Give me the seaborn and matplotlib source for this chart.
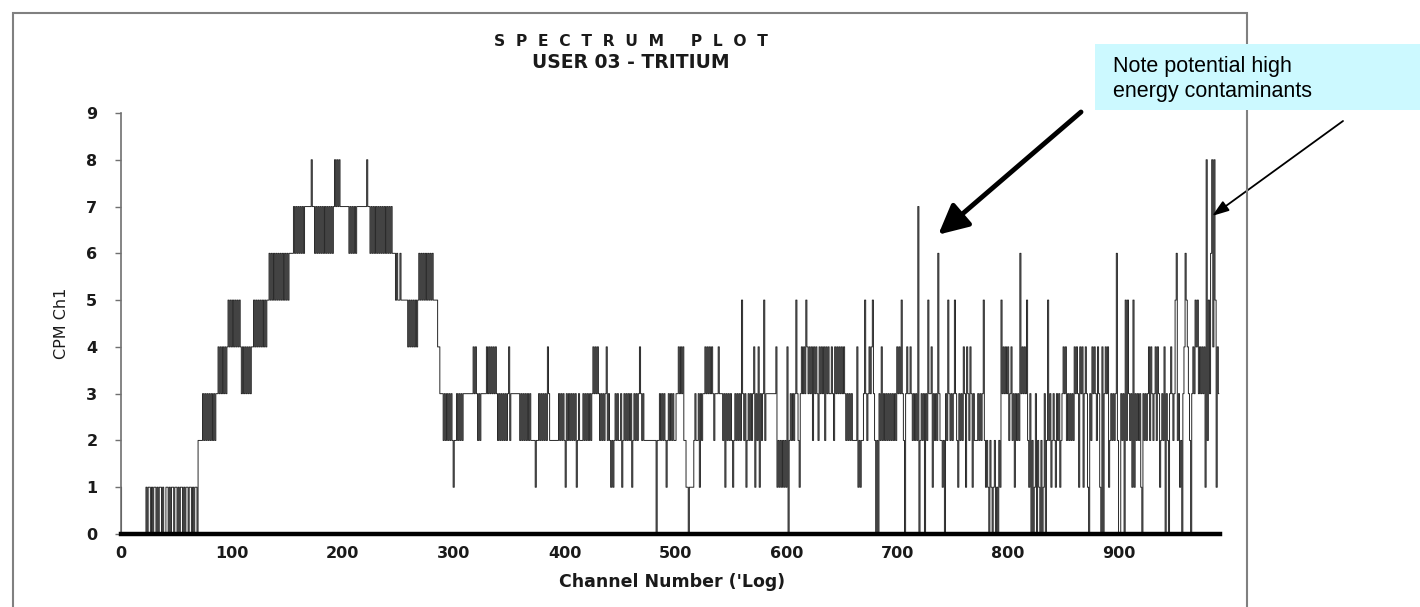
"""Spectrum plot (USER 03 - TRITIUM) with annotation about high energy contaminants."""

import matplotlib

matplotlib.use("Agg")

import matplotlib.pyplot as plt
import numpy as np
import pandas as pd
import seaborn as sns
from matplotlib.patches import Rectangle


# CPM per channel, one digit per channel, 100 channels per block
CPM_000_099 = (
    "1000000000" "0000000000" "0001011010" "1101011010" "0110101101"
    "1010110101" "1011010110" "2222323232" "3232323343" "4343434545"
)
CPM_100_199 = (
    "4545454543" "4343434344" "5454545454" "5455656565" "6565656565"
    "6566667676" "7676767777" "7787767676" "7676767676" "7678787877"
)
CPM_200_299 = (
    "7777776767" "6767777777" "7787767676" "7676767676" "7676766656"
    "5565555554" "5454545456" "5656565656" "5655554433" "3232323232"
)
CPM_300_399 = (
    "1223232323" "3333333343" "4323233333" "4343434343" "2323232323"
    "4233333333" "2323232323" "2222122323" "2323243222" "2222232323"
)
CPM_400_499 = (
    "2132323232" "3123222323" "2323234343" "4323232342" "3212123232"
    "2312323232" "3123232343" "2322222222" "2220223232" "3212323232"
)
CPM_500_599 = (
    "2334343422" "1101111232" "2313233434" "3434323334" "3332313232"
    "3212323232" "5323123232" "3413241323" "5233333333" "3412121212"
)
CPM_600_699 = (
    "1402323235" "3213434354" "3434243432" "4343424343" "3432434343"
    "4343232323" "2222412122" "3532343453" "2020324232" "3232323232"
)
CPM_700_799 = (
    "4343532034" "3343232327" "0232303253" "3413232632" "2120325323"
    "2353213232" "4314324313" "2223232352" "1210210120" "1021534343"
)
CPM_800_899 = (
    "4234231323" "2634343521" "3020130210" "2013025231" "2321323123"
    "4342323232" "4343143413" "4310324343" "2431040343" "4123232362"
)
CPM_900_990 = (
    "0032305253" "2315132323" "1032323424" "3234243123" "2403203432"
    "3562312034" "6543203435" "4534343418" "2536848514" "3"
)

X_TICKS = [0, 100, 200, 300, 400, 500, 600, 700, 800, 900]
Y_TICKS = [0, 1, 2, 3, 4, 5, 6, 7, 8, 9]

TITLE_1 = "S  P  E  C  T  R  U  M     P  L  O  T"
TITLE_2 = "USER 03 - TRITIUM"
NOTE = "Note potential high\nenergy contaminants"

# arrow tips (channel, cpm)
TIP_MAIN = (737, 6.4)
TIP_END = (984, 6.8)


def main() -> None:
    sns.set_style("white")
    plt.rcParams["font.family"] = ["DejaVu Sans"]

    blocks = [CPM_000_099, CPM_100_199, CPM_200_299, CPM_300_399, CPM_400_499,
              CPM_500_599, CPM_600_699, CPM_700_799, CPM_800_899, CPM_900_990]
    counts = [int(c) for c in "".join(blocks)]
    df = pd.DataFrame({"channel": np.arange(len(counts)), "cpm": counts})

    W, H = 1420, 607
    fig = plt.figure(figsize=(W / 100, H / 100), dpi=100)
    ax = fig.add_axes([121 / W, 73 / H, 1099 / W, 421 / H])

    sns.lineplot(data=df, x="channel", y="cpm", ax=ax, drawstyle="steps-mid",
                 color="#262626", linewidth=0.7, errorbar=None)

    ax.set_xlim(0, 991)
    ax.set_ylim(0, 9)
    ax.set_xticks(X_TICKS)
    ax.set_yticks(Y_TICKS)
    for side in ("top", "right"):
        ax.spines[side].set_visible(False)
    ax.spines["left"].set_color("#707070")
    ax.spines["left"].set_linewidth(1.2)
    ax.spines["bottom"].set_color("black")
    ax.spines["bottom"].set_linewidth(3.2)
    ax.tick_params(axis="y", left=True, length=4, width=1, color="#707070", pad=13)
    ax.tick_params(axis="x", length=0, pad=9)
    for lbl in ax.get_xticklabels() + ax.get_yticklabels():
        lbl.set_fontsize(11.5)
        lbl.set_fontweight("bold")
        lbl.set_color("#1a1a1a")

    ax.set_xlabel("Channel Number ('Log)", fontsize=12.5, fontweight="bold", color="#1a1a1a")
    ax.xaxis.set_label_coords(0.501, -0.093)
    ax.set_ylabel("CPM Ch1", fontsize=11.5, color="#1a1a1a")
    ax.yaxis.set_label_coords(-0.047, 0.5)

    fig.text(631 / W, 1 - 42 / H, TITLE_1, ha="center", va="center",
             fontsize=11.2, fontweight="bold", color="#1a1a1a")
    fig.text(631 / W, 1 - 62 / H, TITLE_2, ha="center", va="center",
             fontsize=13.5, fontweight="bold", color="#1a1a1a")

    # scanned page frame
    fig.add_artist(Rectangle((13 / W, -0.02), (1247 - 13) / W, (H - 13) / H + 0.02,
                             transform=fig.transFigure, fill=False,
                             edgecolor="#808080", linewidth=1.5, zorder=1))

    # callout box
    fig.add_artist(Rectangle((1095 / W, 1 - 110 / H), (W - 1095) / W, 65.5 / H,
                             transform=fig.transFigure, facecolor="#CCF9FF",
                             edgecolor="none", zorder=3))
    fig.text(1113 / W, 1 - 79 / H, NOTE, ha="left", va="center", fontsize=15.5,
             family=["Liberation Sans", "DejaVu Sans"], color="black",
             linespacing=1.2, zorder=4)

    ax.annotate("", xy=TIP_MAIN, xycoords="data",
                xytext=(1081 / W, 1 - 112 / H), textcoords="figure fraction",
                annotation_clip=False,
                arrowprops=dict(arrowstyle="-|>,head_length=0.9,head_width=0.45",
                                mutation_scale=20, lw=3.5, color="black",
                                shrinkA=0, shrinkB=0))
    ax.annotate("", xy=TIP_END, xycoords="data",
                xytext=(1343 / W, 1 - 121 / H), textcoords="figure fraction",
                annotation_clip=False,
                arrowprops=dict(arrowstyle="-|>,head_length=1.0,head_width=0.35",
                                mutation_scale=10, lw=1.3, color="black",
                                shrinkA=0, shrinkB=0))

    fig.savefig("out.png", dpi=100)
    plt.close(fig)


if __name__ == "__main__":
    main()
